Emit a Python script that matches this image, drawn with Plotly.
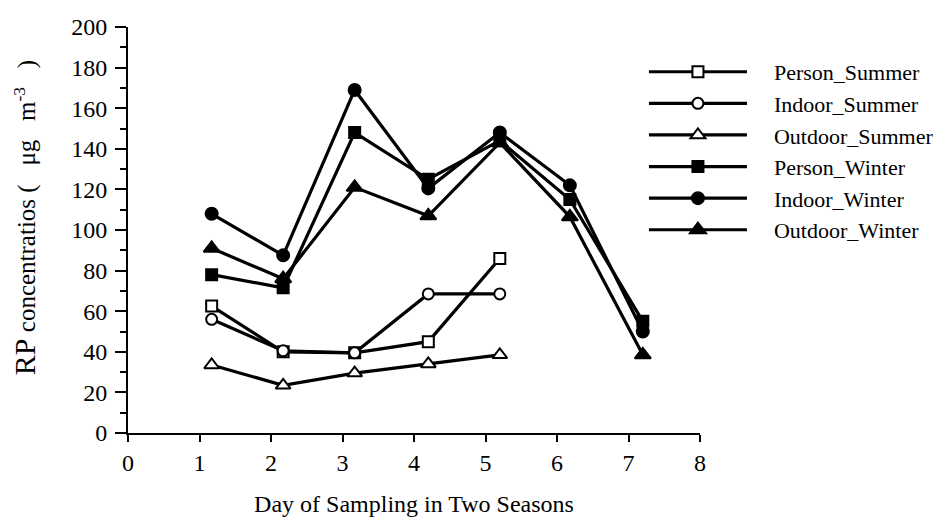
import plotly.graph_objects as go

days_summer = [1.17, 2.17, 3.17, 4.2, 5.2]
days_winter = [1.17, 2.17, 3.17, 4.2, 5.2, 6.18, 7.2]

person_summer = [62.5, 40, 39.5, 45, 86]
indoor_summer = [56, 40.5, 39.5, 68.5, 68.5]
outdoor_summer = [33.5, 23.5, 29.5, 34, 38.5]
person_winter = [78, 71.5, 148, 125, 144, 115, 55]
indoor_winter = [108, 87.5, 169, 120.5, 148, 122, 50]
outdoor_winter = [91, 76, 121, 107, 143, 106.5, 38.5]

x_ticks = [0, 1, 2, 3, 4, 5, 6, 7, 8]
y_ticks = [0, 20, 40, 60, 80, 100, 120, 140, 160, 180, 200]

FONT = "Liberation Serif"
PAD = "\u00a0" * 4
NB = "\u00a0"

series = [
    ("Person_Summer", days_summer, person_summer, "square", "white", 11),
    ("Indoor_Summer", days_summer, indoor_summer, "circle", "white", 11),
    ("Outdoor_Summer", days_summer, outdoor_summer, "triangle-up", "white", 13),
    ("Person_Winter", days_winter, person_winter, "square", "black", 11),
    ("Indoor_Winter", days_winter, indoor_winter, "circle", "black", 12),
    ("Outdoor_Winter", days_winter, outdoor_winter, "triangle-up", "black", 14),
]

fig = go.Figure()
for name, xs, ys, sym, fill, size in series:
    fig.add_trace(go.Scatter(
        x=xs, y=ys, name=PAD + name, mode="lines+markers",
        legendgroup=name,
        line=dict(color="black", width=3.2),
        marker=dict(symbol=sym, color=fill, size=size,
                    line=dict(color="black", width=2)),
        cliponaxis=False,
    ))

ytitle = ("\u200b" + NB * 4 + "<span style='font-size:30px'>RP</span> concentratios ("
          + NB * 3 + "μg" + NB * 3 + "m<sup>-3</sup>" + NB * 3 + ")")

fig.update_layout(
    width=950, height=519,
    margin=dict(l=120, r=258, t=19, b=94),
    paper_bgcolor="white", plot_bgcolor="white",
    font=dict(family=FONT, size=24, color="black"),
    showlegend=True,
    legend=dict(
        x=0.902, y=0.941, xanchor="left", yanchor="top",
        font=dict(family=FONT, size=22, color="black"),
        itemwidth=98, tracegroupgap=0,
        bgcolor="rgba(0,0,0,0)", borderwidth=0,
    ),
    xaxis=dict(
        range=[0, 8], tickvals=x_ticks, ticktext=[str(v) for v in x_ticks],
        showgrid=False, zeroline=False, showline=True, linecolor="black",
        linewidth=2, ticks="outside", ticklen=7, tickwidth=2, tickcolor="black",
        automargin=False,
        tickfont=dict(family=FONT, size=24),
        title=dict(text="Day of Sampling in Two Seasons",
                   font=dict(family=FONT, size=24), standoff=20),
    ),
    yaxis=dict(
        range=[0, 200], tickvals=y_ticks, ticktext=[str(v) for v in y_ticks],
        showgrid=False, zeroline=False, showline=True, linecolor="black",
        linewidth=2, ticks="outside", ticklen=11, tickwidth=2, tickcolor="black",
        ticklabelstandoff=3, automargin=False,
        minor=dict(dtick=10, ticks="outside", ticklen=6, tickwidth=2,
                   tickcolor="black", showgrid=False),
        tickfont=dict(family=FONT, size=24),
        title=dict(text=ytitle, font=dict(family=FONT, size=25), standoff=36),
    ),
)

fig.write_html("out.html")
